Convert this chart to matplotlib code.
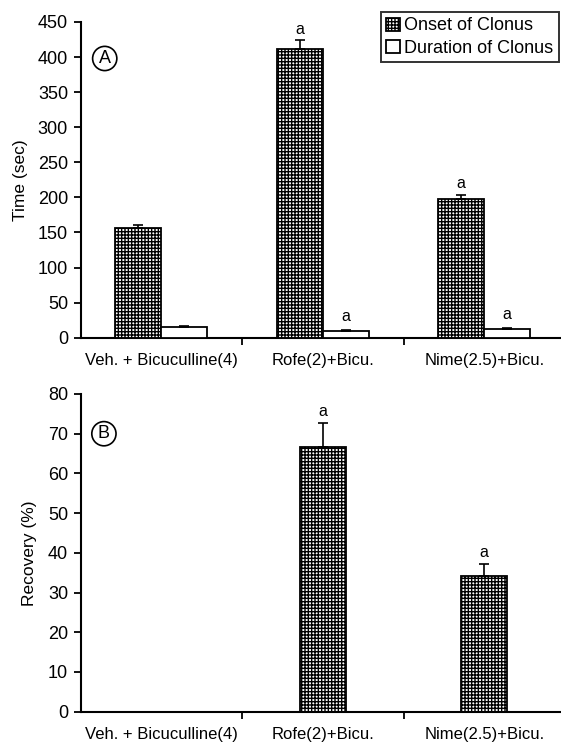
import matplotlib
matplotlib.use('Agg')
import matplotlib.pyplot as plt
import numpy as np

plt.rcParams['font.family'] = ['Liberation Sans', 'DejaVu Sans']
plt.rcParams['hatch.linewidth'] = 1.0

# ---- data ----
categories = ['Veh. + Bicuculline(4)', 'Rofe(2)+Bicu.', 'Nime(2.5)+Bicu.']
onset = [157, 411, 197]
onset_err = [3.5, 13, 7]
onset_sig = ['', 'a', 'a']
duration = [15, 10, 12.5]
duration_err = [1.2, 1.0, 1.3]
duration_sig = ['', 'a', 'a']
recovery = [0, 66.6, 34.2]
recovery_err = [0, 6, 3]
recovery_sig = ['', 'a', 'a']
yticks_a = list(range(0, 451, 50))
yticks_b = list(range(0, 81, 10))
legend_labels = ['Onset of Clonus', 'Duration of Clonus']

W, H = 561, 742
fig = plt.figure(figsize=(W / 100, H / 100), dpi=100)

def px_axes(left, top, right, bottom):
    return fig.add_axes([left / W, 1 - bottom / H, (right - left) / W, (bottom - top) / H])

axA = px_axes(80.5, 22, 565, 337.7)
axB = px_axes(80.5, 394, 565, 711.7)

x = np.arange(len(categories))
bw = 0.285
hatch = '+++++'
FS = 12

def style(ax, ylim, yticks):
    ax.set_xlim(-0.5, 2.5)
    ax.set_ylim(*ylim)
    ax.set_yticks(yticks)
    ax.set_xticks([0.5, 1.5, 2.5])
    ax.set_xticklabels([])
    ax.set_xticks(x, minor=True)
    ax.set_xticklabels(categories, minor=True, fontsize=FS)
    ax.tick_params(axis='x', which='minor', length=0, pad=11)
    ax.tick_params(axis='x', which='major', length=5, width=1.3, direction='out')
    ax.tick_params(axis='y', length=5, width=1.3, pad=4, labelsize=FS + 1)
    for s in ['top', 'right']:
        ax.spines[s].set_visible(False)
    for s in ['left', 'bottom']:
        ax.spines[s].set_linewidth(1.5)
    ax.patch.set_alpha(0)

def sig_labels(ax, xs, tops, errs, sigs, off):
    for xi, t, e, s in zip(xs, tops, errs, sigs):
        if s:
            ax.annotate(s, (xi, t + e), xytext=(0, off), textcoords='offset points',
                        ha='center', va='center', fontsize=11.5)

err_kw = dict(ecolor='black', elinewidth=1.2, capsize=3.5, capthick=1.2)

# Panel A
b1 = axA.bar(x - bw / 2, onset, bw, color='white', edgecolor='black', linewidth=1.3,
             hatch=hatch, yerr=[np.zeros(3), onset_err], error_kw=err_kw, zorder=3)
b2 = axA.bar(x + bw / 2, duration, bw, color='white', edgecolor='black', linewidth=1.3,
             yerr=[np.zeros(3), duration_err], error_kw=err_kw, zorder=3)
sig_labels(axA, x - bw / 2, onset, onset_err, onset_sig, 8)
sig_labels(axA, x + bw / 2, duration, duration_err, duration_sig, 10)
style(axA, (0, 450), yticks_a)
axA.set_ylabel('Time (sec)', fontsize=12.5, labelpad=7)
axA.text(-0.35, 398, 'A', fontsize=13, ha='center', va='center',
         bbox=dict(boxstyle='circle,pad=0.2', fc='white', ec='black', lw=1.2))
leg = fig.legend([b1, b2], legend_labels, loc='upper right',
                 bbox_to_anchor=(559 / W, 1 - 12 / H), fontsize=13,
                 frameon=True, fancybox=False, edgecolor='black',
                 handlelength=0.75, handleheight=0.75, handletextpad=0.25,
                 borderpad=0.3, labelspacing=0.3, borderaxespad=0)
leg.get_frame().set_linewidth(1.4)

# Panel B
axB.bar(x, recovery, bw, color='white', edgecolor='black', linewidth=1.3,
        hatch=hatch, yerr=[np.zeros(3), recovery_err], error_kw=err_kw, zorder=3)
sig_labels(axB, x, recovery, recovery_err, recovery_sig, 8.5)
style(axB, (0, 80), yticks_b)
axB.set_ylabel('Recovery (%)', fontsize=12.5, labelpad=8)
axB.text(-0.355, 70, 'B', fontsize=13, ha='center', va='center',
         bbox=dict(boxstyle='circle,pad=0.2', fc='white', ec='black', lw=1.2))

fig.savefig('out.png', dpi=100)
